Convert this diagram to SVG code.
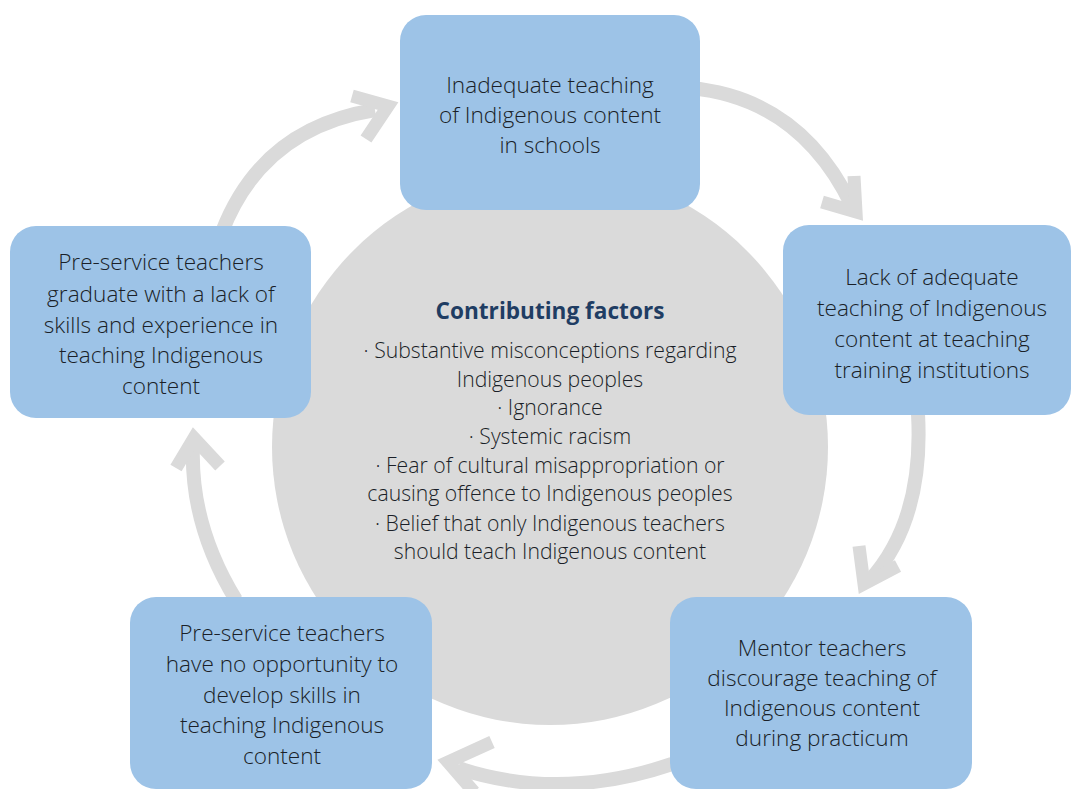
<svg xmlns="http://www.w3.org/2000/svg" width="1072" height="789" viewBox="0 0 1072 789">
<style>
.box{fill:#9dc3e7;}
.t{font-family:"Open Sans","Noto Sans","Liberation Sans",sans-serif;font-size:22.6px;font-weight:300;fill:#1a1f28;text-anchor:middle;}
.c{font-family:"Open Sans","Noto Sans","Liberation Sans",sans-serif;font-size:21.2px;font-weight:300;fill:#1a1f28;text-anchor:middle;}
.h{font-family:"Open Sans","Noto Sans","Liberation Sans",sans-serif;font-size:22.6px;font-weight:bold;fill:#1f3d63;text-anchor:middle;}
.arr{fill:none;stroke:#dadada;stroke-width:14;}
.head{fill:none;stroke:#dadada;stroke-width:13;stroke-linejoin:miter;stroke-linecap:butt;}
</style>
<rect width="1072" height="789" fill="#ffffff"/>
<g id="connectors">
<path class="arr" d="M222 232 Q262 128 375 110"/>
<polyline class="head" points="352,96 388,106 366,139"/>
<path class="arr" d="M690 88 Q800 98 852 206"/>
<polyline class="head" points="854,176 856,212 822,202"/>
<path class="arr" d="M918 414 Q924 520 870 580"/>
<polyline class="head" points="859,546 864,584 898,566"/>
<path class="arr" d="M672 764 Q560 802 458 768"/>
<polyline class="head" points="492,742 448,762 474,792"/>
<path class="arr" d="M236 600 Q190 525 193 446"/>
<polyline class="head" points="176,468 194,438 220,466"/>
</g>
<g id="center">
<circle cx="550" cy="447" r="278" fill="#dadada"/>
<text class="h" x="550" y="319">Contributing factors</text>
<text class="c" x="550" y="358">· Substantive misconceptions regarding</text>
<text class="c" x="550" y="387">Indigenous peoples</text>
<text class="c" x="550" y="415">· Ignorance</text>
<text class="c" x="550" y="444">· Systemic racism</text>
<text class="c" x="550" y="473">· Fear of cultural misappropriation or</text>
<text class="c" x="550" y="501">causing offence to Indigenous peoples</text>
<text class="c" x="550" y="531">· Belief that only Indigenous teachers</text>
<text class="c" x="550" y="559">should teach Indigenous content</text>
</g>
<g id="node-top">
<rect class="box" x="400" y="15" width="300" height="195" rx="26"/>
<text class="t" x="550" y="93">Inadequate teaching</text>
<text class="t" x="550" y="123">of Indigenous content</text>
<text class="t" x="550" y="153">in schools</text>
</g>
<g id="node-right">
<rect class="box" x="783" y="225" width="288" height="190" rx="26"/>
<text class="t" x="932" y="285">Lack of adequate</text>
<text class="t" x="932" y="316">teaching of Indigenous</text>
<text class="t" x="932" y="347">content at teaching</text>
<text class="t" x="932" y="378">training institutions</text>
</g>
<g id="node-bottom-right">
<rect class="box" x="670" y="597" width="302" height="192" rx="26"/>
<text class="t" x="822" y="656">Mentor teachers</text>
<text class="t" x="822" y="686">discourage teaching of</text>
<text class="t" x="822" y="716">Indigenous content</text>
<text class="t" x="822" y="746">during practicum</text>
</g>
<g id="node-bottom-left">
<rect class="box" x="130" y="597" width="302" height="192" rx="26"/>
<text class="t" x="282" y="641">Pre-service teachers</text>
<text class="t" x="282" y="672">have no opportunity to</text>
<text class="t" x="282" y="703">develop skills in</text>
<text class="t" x="282" y="733">teaching Indigenous</text>
<text class="t" x="282" y="764">content</text>
</g>
<g id="node-left">
<rect class="box" x="10" y="226" width="301" height="192" rx="26"/>
<text class="t" x="161" y="270">Pre-service teachers</text>
<text class="t" x="161" y="302">graduate with a lack of</text>
<text class="t" x="161" y="333">skills and experience in</text>
<text class="t" x="161" y="363">teaching Indigenous</text>
<text class="t" x="161" y="394">content</text>
</g>
</svg>
